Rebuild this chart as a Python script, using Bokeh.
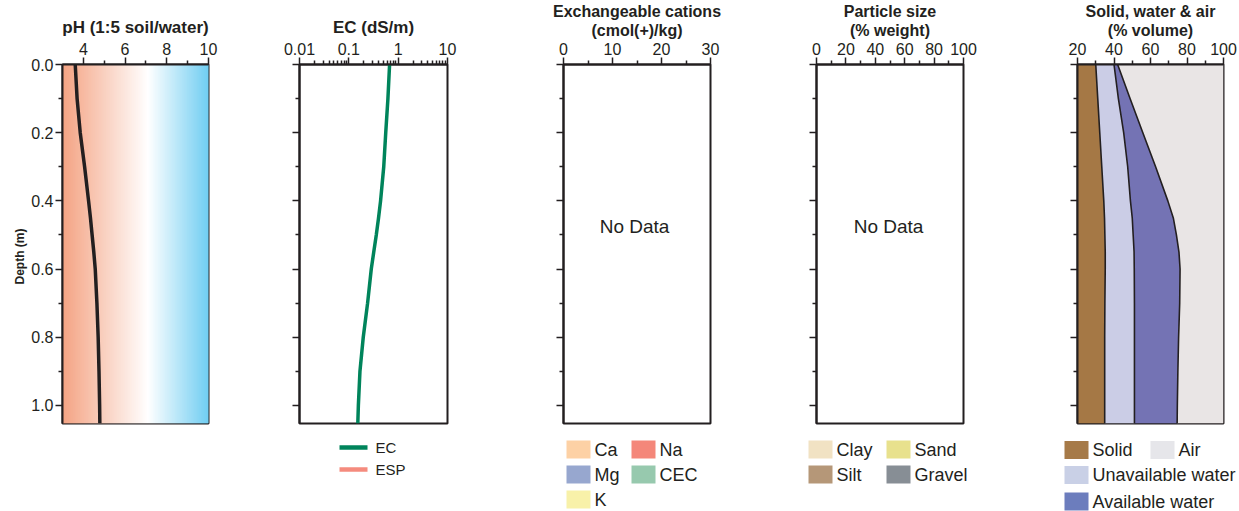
import numpy as np
from bokeh.plotting import figure
from bokeh.models import Range1d, FixedTicker, Label, Title, PrintfTickFormatter, CustomJSTickFormatter
from bokeh.layouts import row, column
from bokeh.embed import file_html
from bokeh.resources import INLINE
from bokeh.core.properties import value

# ---------------- data ----------------
depth = [0.0, 0.1, 0.2, 0.3, 0.4, 0.45, 0.5, 0.55, 0.6, 0.7, 0.8, 0.9, 1.0, 1.053]
ph = [3.61, 3.70, 3.85, 4.06, 4.25, 4.34, 4.42, 4.50, 4.57, 4.65, 4.71, 4.75, 4.78, 4.79]
ec = [0.67, 0.62, 0.56, 0.51, 0.44, 0.40, 0.36, 0.32, 0.285, 0.24, 0.196, 0.168, 0.156, 0.152]
solid = [30.0, 31.1, 32.2, 33.3, 34.4, 34.8, 35.0, 35.2, 35.2, 35.0, 34.9, 34.9, 34.9, 34.9]
unavailable_water = [10.0, 11.3, 13.1, 14.2, 14.6, 15.2, 15.5, 15.8, 15.9, 16.2, 16.3, 16.3, 16.3, 16.3]
available_water = [2.0, 6.4, 10.5, 15.3, 20.5, 22.5, 23.7, 24.6, 25.1, 24.8, 24.2, 23.8, 23.5, 23.4]

depth_ticks = [0.0, 0.2, 0.4, 0.6, 0.8, 1.0]
depth_minor = [0.1, 0.3, 0.5, 0.7, 0.9]
ph_ticks = [4, 6, 8, 10]
ph_minor = [5, 7, 9]
ec_ticks = [0.01, 0.1, 1, 10]
ec_tick_labels = ["0.01", "0.1", "1", "10"]
ec_minor = [m * 10.0 ** k for k in (-2, -1, 0) for m in range(2, 10)]
cat_ticks = [0, 10, 20, 30]
cat_minor = [5, 15, 25]
ps_ticks = [0, 20, 40, 60, 80, 100]
ps_minor = [10, 30, 50, 70, 90]
sw_ticks = [20, 40, 60, 80, 100]
sw_minor = [30, 50, 70, 90]

cation_labels = ["Ca", "Na", "Mg", "CEC", "K"]
cation_colors = ["#fdd1a5", "#f4877a", "#97a7cf", "#97c9ae", "#f8f1a9"]
particle_labels = ["Clay", "Sand", "Silt", "Gravel"]
particle_colors = ["#f1e2c3", "#e8e18d", "#b59778", "#878e95"]
swa_labels = ["Solid", "Air", "Unavailable water", "Available water"]
swa_legend_colors = ["#a67a48", "#e6e6ea", "#c9d0e6", "#6c7dbd"]
ec_legend_labels = ["EC", "ESP"]
ec_legend_colors = ["#00845b", "#f58b7e"]

# ---------------- style / layout ----------------
INK = "#231f20"
FONT = "Liberation Sans"
TOTAL_W = 1239
PANEL_H = 430
FRAME_TOP = 64
FRAME_BOTTOM = 423
LEG_H = 81
DEPTH_MAX = 1.053
EC_GREEN = "#00845b"
SOLID_C = "#a57845"
UNAV_C = "#cbcde6"
AVAIL_C = "#7473b4"
AIR_C = "#e9e5e5"


def make_panel(width, left, right, x_range, xticks, xminor, x_axis_type="linear", ylabels=False):
    p = figure(width=width, height=PANEL_H, x_range=x_range, y_range=Range1d(DEPTH_MAX, 0),
               x_axis_type=x_axis_type, x_axis_location="above", toolbar_location=None,
               output_backend="svg", tools="", min_border_left=left, min_border_right=right,
               min_border_top=FRAME_TOP, min_border_bottom=PANEL_H - FRAME_BOTTOM)
    p.grid.visible = False
    p.outline_line_color = INK
    p.outline_line_width = 2
    p.background_fill_color = "white"
    p.border_fill_color = "white"
    for ax in (p.xaxis[0], p.yaxis[0]):
        ax.axis_line_color = INK
        ax.axis_line_width = 2
        ax.major_tick_line_color = INK
        ax.minor_tick_line_color = INK
        ax.major_tick_line_width = 1.5
        ax.minor_tick_line_width = 1.5
        ax.major_tick_in = 0
        ax.major_tick_out = 7
        ax.minor_tick_in = 0
        ax.minor_tick_out = 4
        ax.major_label_standoff = 2
        ax.major_label_text_font = FONT
        ax.major_label_text_font_size = "16px"
        ax.major_label_text_color = INK
    p.xaxis[0].major_label_standoff = 3
    p.xaxis[0].ticker = FixedTicker(ticks=xticks, minor_ticks=xminor)
    p.yaxis[0].ticker = FixedTicker(ticks=depth_ticks, minor_ticks=depth_minor)
    if ylabels:
        p.yaxis[0].formatter = PrintfTickFormatter(format="%.1f")
    else:
        p.yaxis[0].formatter = CustomJSTickFormatter(code="return ''")
    return p


def add_title(p, lines, offset=0):
    if len(lines) == 1:
        specs = [(lines[0], "17px", 5)]
    else:
        specs = [(lines[1], "16px", 1), (lines[0], "16px", 0)]
    # added from the frame outward: the last line first
    for t, size, so in specs:
        p.add_layout(Title(text=t, align="center", standoff=so, offset=offset,
                           text_font=FONT, text_font_size=size, text_font_style="bold",
                           text_color=INK), "above")


# ---- panel 1: pH ----
p1 = make_panel(250, 62, 42, Range1d(3, 10), ph_ticks, ph_minor, ylabels=True)
grad_stops = [3.0, 7.1, 10.0]
grad_cols = [(244, 163, 131), (255, 255, 255), (112, 205, 242)]
n = 146
edges = np.linspace(3, 10, n + 1)
mids = (edges[:-1] + edges[1:]) / 2
cols = []
for m in mids:
    rgb = [int(round(np.interp(m, grad_stops, [c[i] for c in grad_cols]))) for i in range(3)]
    cols.append("#%02x%02x%02x" % tuple(rgb))
p1.quad(left=edges[:-1], right=edges[1:] + 0.03, top=0, bottom=DEPTH_MAX, fill_color=cols, line_color=None)
p1.line(ph, depth, line_width=3.5, line_color=INK)
p1.add_layout(Title(text="Depth (m)", align="left", offset=139, standoff=4,
                    text_font=FONT, text_font_size="12px", text_font_style="bold",
                    text_color=INK), "left")
add_title(p1, ["pH (1:5 soil/water)"], offset=-5)

# ---- panel 2: EC ----
p2 = make_panel(255, 49, 58, Range1d(0.01, 10), ec_ticks, ec_minor, x_axis_type="log")
p2.xaxis[0].major_label_overrides = {t: l for t, l in zip(ec_ticks, ec_tick_labels)}
p2.line(ec, depth, line_width=3.5, line_color=EC_GREEN)
add_title(p2, ["EC (dS/m)"])

# ---- panel 3: cations ----
p3 = make_panel(258, 58, 53, Range1d(0, 30), cat_ticks, cat_minor)
add_title(p3, ["Exchangeable cations", "(cmol(+)/kg)"])
p3.add_layout(Label(x=14.5, y=0.475, text="No Data", text_align="center", text_baseline="middle",
                    text_font=FONT, text_font_size="19px", text_color=INK))

# ---- panel 4: particle size ----
p4 = make_panel(257, 53, 57, Range1d(0, 100), ps_ticks, ps_minor)
add_title(p4, ["Particle size", "(% weight)"])
p4.add_layout(Label(x=49, y=0.475, text="No Data", text_align="center", text_baseline="middle",
                    text_font=FONT, text_font_size="19px", text_color=INK))

# ---- panel 5: solid, water & air ----
p5 = make_panel(219, 57, 16, Range1d(20, 100), sw_ticks, sw_minor)
b1 = np.array(solid)
b2 = b1 + np.array(unavailable_water)
b3 = b2 + np.array(available_water)
p5.harea(y=depth, x1=20, x2=b1, fill_color=SOLID_C)
p5.harea(y=depth, x1=b1, x2=b2, fill_color=UNAV_C)
p5.harea(y=depth, x1=b2, x2=b3, fill_color=AVAIL_C)
p5.harea(y=depth, x1=b3, x2=100, fill_color=AIR_C)
for b in (b1, b2, b3):
    p5.line(b, depth, line_width=1.6, line_color=INK)
add_title(p5, ["Solid, water & air", "(% volume)"])

# ---------------- legend strip ----------------
LEG_TOP = PANEL_H
leg = figure(width=TOTAL_W, height=LEG_H, x_range=Range1d(0, TOTAL_W),
             y_range=Range1d(LEG_TOP + LEG_H, LEG_TOP), toolbar_location=None,
             output_backend="svg", tools="", x_axis_location=None, y_axis_location=None,
             min_border=0, outline_line_color=None)
leg.grid.visible = False
SW_W, SW_H, TXT_GAP = 24, 18, 28

# EC / ESP line swatches
ec_x0 = 339
ec_rows = [447, 469]
leg.segment(x0=[ec_x0] * 2, x1=[ec_x0 + 28] * 2, y0=ec_rows, y1=ec_rows,
            line_color=ec_legend_colors, line_width=4.5)
leg.text(x=[ec_x0 + 36] * 2, y=ec_rows, text=ec_legend_labels, text_baseline="middle",
         text_font=value(FONT), text_font_size="15px", text_color=INK)


def square_legend(labels, colors, xs, ys):
    leg.rect(x=[x + SW_W / 2 for x in xs], y=ys, width=SW_W, height=SW_H,
             fill_color=colors, line_color=None)
    leg.text(x=[x + TXT_GAP for x in xs], y=ys, text=labels, text_baseline="middle",
             text_font=value(FONT), text_font_size="18px", text_color=INK)


square_legend(cation_labels, cation_colors, [566, 631, 566, 631, 566],
              [449, 449, 474, 474, 499])
square_legend(particle_labels, particle_colors, [808, 886, 808, 886],
              [449, 449, 474, 474])
square_legend(swa_labels, swa_legend_colors, [1064, 1150, 1064, 1064],
              [449.5, 449.5, 474.5, 501])

layout = column(row(p1, p2, p3, p4, p5, spacing=0), leg, spacing=0)
open("out.html", "w").write(file_html(layout, INLINE))
